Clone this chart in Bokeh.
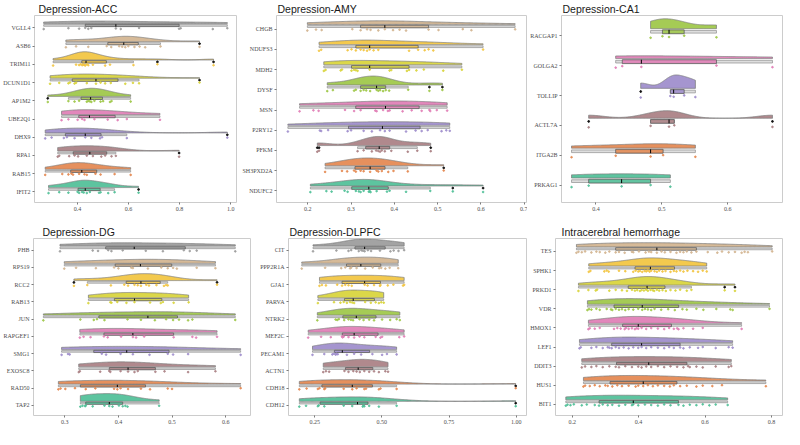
import numpy as np
from bokeh.plotting import figure
from bokeh.models import Range1d, FixedTicker, PrintfTickFormatter
from bokeh.layouts import row, column
from bokeh.embed import file_html
from bokeh.resources import INLINE

# colours, bottom row of each panel first
PALETTE = ["#4fbf97", "#e4874f", "#a97f83", "#9d8ccb", "#e07db5",
           "#9dc746", "#d8d43a", "#f2c43f", "#d2b48f", "#9b9b9b"]

# ---------------- Depression-ACC (top to bottom) ----------------
ACC_GENES = ["VGLL4", "ASB6", "TRIM11", "DCUN1D1", "AP1M2", "UBE2Q1", "DHX9", "RPA1", "RAB15", "IFIT2"]
ACC_VALUES = [
    [0.267, 0.364, 0.406, 0.43, 0.442, 0.454, 0.55, 0.569, 0.641, 0.798, 0.804, 0.93, 0.987],
    [0.354, 0.394, 0.442, 0.514, 0.532, 0.563, 0.575, 0.587, 0.599, 0.623, 0.643, 0.665, 0.725, 0.878],
    [0.304, 0.394, 0.406, 0.412, 0.418, 0.422, 0.426, 0.43, 0.436, 0.442, 0.46, 0.508, 0.527, 0.619, 0.713, 0.933],
    [0.292, 0.328, 0.364, 0.37, 0.388, 0.394, 0.436, 0.472, 0.49, 0.508, 0.53, 0.587, 0.617, 0.641, 0.878],
    [0.283, 0.364, 0.388, 0.406, 0.436, 0.442, 0.448, 0.454, 0.466, 0.49, 0.5, 0.527, 0.533, 0.608],
    [0.337, 0.364, 0.4, 0.418, 0.427, 0.466, 0.518, 0.557, 0.593, 0.723],
    [0.273, 0.298, 0.346, 0.358, 0.388, 0.43, 0.454, 0.488, 0.496, 0.593, 0.987],
    [0.322, 0.328, 0.367, 0.388, 0.402, 0.436, 0.46, 0.493, 0.508, 0.533, 0.55, 0.798],
    [0.273, 0.34, 0.364, 0.376, 0.382, 0.406, 0.427, 0.436, 0.47, 0.49, 0.545, 0.608],
    [0.286, 0.328, 0.364, 0.4, 0.406, 0.418, 0.424, 0.436, 0.448, 0.484, 0.49, 0.52, 0.545, 0.639],
]
ACC_TICKS = [0.4, 0.6, 0.8, 1.0]

# ---------------- Depression-AMY ----------------
AMY_GENES = ["CHGB", "NDUFS3", "MDH2", "DYSF", "MSN", "P2RY12", "PFKM", "SH3PXD2A", "NDUFC2"]
AMY_VALUES = [
    [0.199, 0.219, 0.232, 0.303, 0.322, 0.337, 0.345, 0.363, 0.378, 0.397, 0.412, 0.427, 0.479, 0.502, 0.558, 0.578, 0.679],
    [0.226, 0.231, 0.292, 0.301, 0.311, 0.322, 0.329, 0.337, 0.343, 0.352, 0.363, 0.434, 0.455, 0.47, 0.479, 0.49, 0.605],
    [0.237, 0.241, 0.276, 0.279, 0.301, 0.307, 0.311, 0.315, 0.343, 0.389, 0.393, 0.429, 0.434, 0.451, 0.468, 0.513, 0.556],
    [0.245, 0.258, 0.307, 0.311, 0.322, 0.329, 0.335, 0.344, 0.359, 0.363, 0.367, 0.374, 0.38, 0.388, 0.432, 0.481, 0.511],
    [0.181, 0.213, 0.225, 0.286, 0.307, 0.322, 0.356, 0.359, 0.374, 0.385, 0.389, 0.419, 0.44, 0.463, 0.481, 0.483, 0.498, 0.522],
    [0.154, 0.228, 0.231, 0.247, 0.292, 0.3, 0.329, 0.348, 0.367, 0.378, 0.389, 0.427, 0.449, 0.463, 0.477, 0.509, 0.52, 0.528],
    [0.222, 0.226, 0.315, 0.329, 0.348, 0.358, 0.363, 0.367, 0.371, 0.378, 0.393, 0.431, 0.453, 0.484],
    [0.24, 0.279, 0.291, 0.307, 0.311, 0.322, 0.329, 0.344, 0.359, 0.363, 0.371, 0.386, 0.398, 0.431, 0.514],
    [0.206, 0.243, 0.255, 0.285, 0.292, 0.311, 0.318, 0.322, 0.329, 0.341, 0.343, 0.345, 0.359, 0.383, 0.389, 0.427, 0.483, 0.535, 0.605],
]
AMY_TICKS = [0.2, 0.3, 0.4, 0.5, 0.6, 0.7]

# ---------------- Depression-CA1 ----------------
CA1_GENES = ["RACGAP1", "GOLGA2", "TOLLIP", "ACTL7A", "ITGA2B", "PRKAG1"]
CA1_VALUES = [
    [0.483, 0.501, 0.511, 0.534, 0.583],
    [0.43, 0.44, 0.469, 0.583, 0.668],
    [0.468, 0.513, 0.518, 0.534, 0.551],
    [0.389, 0.483, 0.511, 0.519, 0.668],
    [0.363, 0.43, 0.483, 0.502, 0.551],
    [0.363, 0.389, 0.439, 0.483, 0.513],
]
CA1_TICKS = [0.4, 0.5, 0.6]

# ---------------- Depression-DG ----------------
DG_GENES = ["PHB", "RPS19", "RCC2", "RAB13", "JUN", "RAPGEF1", "SMG1", "EXOSC8", "RAD50", "TAP2"]
DG_VALUES = [
    [0.291, 0.352, 0.362, 0.381, 0.387, 0.408, 0.451, 0.483, 0.522, 0.533, 0.546, 0.618],
    [0.299, 0.321, 0.358, 0.392, 0.4, 0.424, 0.427, 0.455, 0.48, 0.492, 0.502, 0.509, 0.546, 0.581],
    [0.317, 0.342, 0.386, 0.411, 0.418, 0.43, 0.436, 0.442, 0.452, 0.457, 0.471, 0.485, 0.489, 0.492, 0.584],
    [0.344, 0.385, 0.387, 0.398, 0.415, 0.43, 0.459, 0.479, 0.483, 0.503, 0.531],
    [0.26, 0.329, 0.354, 0.36, 0.374, 0.417, 0.442, 0.468, 0.489, 0.502, 0.513, 0.53, 0.538, 0.618],
    [0.328, 0.335, 0.348, 0.373, 0.38, 0.405, 0.427, 0.433, 0.448, 0.503, 0.538, 0.545, 0.584],
    [0.294, 0.306, 0.309, 0.369, 0.377, 0.404, 0.427, 0.458, 0.492, 0.502, 0.53, 0.628],
    [0.326, 0.328, 0.366, 0.383, 0.385, 0.404, 0.418, 0.43, 0.436, 0.469, 0.486, 0.53, 0.581],
    [0.288, 0.292, 0.301, 0.319, 0.339, 0.357, 0.392, 0.398, 0.404, 0.418, 0.442, 0.459, 0.492, 0.5, 0.628],
    [0.329, 0.333, 0.338, 0.339, 0.352, 0.374, 0.383, 0.389, 0.401, 0.408, 0.413, 0.417, 0.476],
]
DG_TICKS = [0.3, 0.4, 0.5, 0.6]

# ---------------- Depression-DLPFC ----------------
DLPFC_GENES = ["CIT", "PPP2R1A", "GJA1", "PARVA", "NTRK2", "MEF2C", "PECAM1", "ACTN1", "CDH18", "CDH12"]
DLPFC_VALUES = [
    [0.244, 0.331, 0.376, 0.386, 0.414, 0.424, 0.43, 0.436, 0.448, 0.46, 0.493, 0.532, 0.544, 0.562, 0.583],
    [0.202, 0.289, 0.349, 0.364, 0.382, 0.386, 0.406, 0.438, 0.466, 0.49, 0.498, 0.513, 0.529, 0.561],
    [0.268, 0.277, 0.292, 0.334, 0.352, 0.364, 0.376, 0.388, 0.436, 0.447, 0.471, 0.493, 0.495, 0.522, 0.543, 0.579, 0.583],
    [0.262, 0.322, 0.346, 0.358, 0.37, 0.382, 0.39, 0.397, 0.438, 0.459, 0.477, 0.489, 0.498, 0.507],
    [0.26, 0.328, 0.334, 0.34, 0.36, 0.376, 0.385, 0.393, 0.417, 0.432, 0.453, 0.471, 0.501, 0.531, 0.555, 0.567],
    [0.226, 0.274, 0.31, 0.352, 0.354, 0.358, 0.376, 0.397, 0.417, 0.435, 0.477, 0.495, 0.501, 0.565, 0.583],
    [0.242, 0.286, 0.316, 0.322, 0.328, 0.331, 0.336, 0.37, 0.397, 0.423, 0.465, 0.501, 0.519, 0.555],
    [0.282, 0.292, 0.304, 0.361, 0.376, 0.394, 0.406, 0.418, 0.435, 0.453, 0.471, 0.489, 0.513, 0.523],
    [0.193, 0.22, 0.262, 0.268, 0.286, 0.289, 0.358, 0.39, 0.406, 0.435, 0.441, 0.489, 0.495, 0.555, 0.998],
    [0.193, 0.218, 0.262, 0.265, 0.286, 0.358, 0.39, 0.429, 0.432, 0.435, 0.453, 0.489, 0.555, 0.998],
]
DLPFC_TICKS = [0.25, 0.5, 0.75, 1.0]

# ---------------- Intracerebral hemorrhage ----------------
ICH_GENES = ["TES", "SPHK1", "PRKD1", "VDR", "HMOX1", "LEF1", "DDIT3", "HUS1", "BIT1"]
ICH_VALUES = [
    [0.213, 0.219, 0.229, 0.239, 0.258, 0.273, 0.283, 0.3, 0.312, 0.331, 0.341, 0.358, 0.38, 0.384, 0.401, 0.421,
     0.431, 0.438, 0.455, 0.469, 0.479, 0.496, 0.514, 0.525, 0.535, 0.545, 0.559, 0.574, 0.608, 0.637, 0.651,
     0.671, 0.69, 0.71, 0.719, 0.729, 0.802],
    [0.25, 0.255, 0.297, 0.304, 0.31, 0.341, 0.36, 0.384, 0.391, 0.399, 0.404, 0.411, 0.418, 0.423, 0.428, 0.433,
     0.438, 0.448, 0.455, 0.462, 0.472, 0.481, 0.496, 0.506, 0.514, 0.525, 0.535, 0.547, 0.564, 0.579, 0.593, 0.605],
    [0.219, 0.249, 0.271, 0.275, 0.312, 0.331, 0.35, 0.365, 0.38, 0.389, 0.396, 0.404, 0.409, 0.416, 0.423, 0.428,
     0.436, 0.443, 0.447, 0.455, 0.462, 0.472, 0.482, 0.496, 0.511, 0.525, 0.545, 0.559, 0.659, 0.69],
    [0.246, 0.251, 0.258, 0.273, 0.283, 0.304, 0.317, 0.321, 0.331, 0.341, 0.35, 0.36, 0.37, 0.384, 0.399, 0.411,
     0.419, 0.428, 0.438, 0.448, 0.468, 0.489, 0.509, 0.532, 0.545, 0.574, 0.595, 0.634, 0.676, 0.683, 0.794],
    [0.249, 0.253, 0.268, 0.283, 0.326, 0.336, 0.346, 0.358, 0.362, 0.37, 0.38, 0.389, 0.394, 0.399, 0.409, 0.423,
     0.438, 0.458, 0.477, 0.492, 0.506, 0.516, 0.52, 0.535, 0.564, 0.593, 0.71],
    [0.222, 0.226, 0.258, 0.273, 0.292, 0.307, 0.312, 0.319, 0.331, 0.341, 0.355, 0.37, 0.384, 0.399, 0.409, 0.423,
     0.438, 0.458, 0.477, 0.492, 0.506, 0.525, 0.535, 0.554, 0.579, 0.593, 0.632, 0.671, 0.683],
    [0.229, 0.239, 0.258, 0.273, 0.292, 0.312, 0.331, 0.341, 0.36, 0.38, 0.399, 0.409, 0.423, 0.438, 0.458, 0.477,
     0.496, 0.516, 0.535, 0.549, 0.554, 0.574, 0.593, 0.632, 0.671, 0.679],
    [0.234, 0.239, 0.253, 0.268, 0.283, 0.3, 0.307, 0.321, 0.336, 0.35, 0.37, 0.391, 0.399, 0.414, 0.428, 0.443,
     0.458, 0.477, 0.494, 0.506, 0.525, 0.545, 0.574, 0.593, 0.622, 0.651, 0.783],
    [0.181, 0.186, 0.195, 0.205, 0.229, 0.244, 0.268, 0.281, 0.292, 0.307, 0.321, 0.341, 0.36, 0.38, 0.384, 0.399,
     0.419, 0.438, 0.458, 0.477, 0.496, 0.52, 0.535, 0.554, 0.574, 0.593, 0.613, 0.632, 0.668],
]
ICH_TICKS = [0.2, 0.4, 0.6, 0.8]

# -------------------------------------------------------------------
BASE = 0.24        # violin baseline above the label row
BOX_TOP, BOX_BOT = 0.20, 0.07
WH_TOP, WH_BOT = 0.18, 0.09
PT_Y = -0.03
PEAK = 0.45
ADJUST = 1.35
JIT = [-0.035, 0.015, -0.01, 0.035, -0.02, 0.025, 0.0, -0.03, 0.03, -0.015, 0.01]


def bw_nrd0(x):
    x = np.asarray(x, float)
    hi = np.std(x, ddof=1)
    q75, q25 = np.percentile(x, [75, 25])
    lo = min(hi, (q75 - q25) / 1.34)
    if lo <= 0:
        lo = hi if hi > 0 else 1.0
    return 0.9 * lo * len(x) ** -0.2


def kde(x):
    x = np.asarray(x, float)
    bw = bw_nrd0(x) * ADJUST
    g = np.linspace(x.min(), x.max(), 240)
    d = np.exp(-0.5 * ((g[:, None] - x[None, :]) / bw) ** 2).sum(1) / (len(x) * bw * np.sqrt(2 * np.pi))
    return g, d


def panel(title, genes, values, ticks, fmt, width, height, mb, title_offset):
    n = len(genes)
    allv = np.concatenate([np.asarray(v, float) for v in values])
    pad = 0.05 * (allv.max() - allv.min())
    p = figure(width=width, height=height, output_backend="svg", toolbar_location=None,
               x_range=Range1d(allv.min() - pad, allv.max() + pad),
               y_range=Range1d(0.42, n + 0.68),
               min_border_left=mb[0], min_border_right=mb[1],
               min_border_top=mb[2], min_border_bottom=mb[3])
    p.title.text = title
    p.title.text_font = "Liberation Sans"
    p.title.text_font_size = "10.5px"
    p.title.text_font_style = "normal"
    p.title.text_color = "#1a1a1a"
    p.title.offset = title_offset
    p.title.standoff = 1

    dens = [kde(v) for v in values]
    k = PEAK / max(d.max() for _, d in dens)

    for j, (g, vals) in enumerate(zip(genes, values)):
        y = n - j
        col = PALETTE[y - 1]
        vals = np.asarray(vals, float)
        gx, d = dens[j]
        xs = np.concatenate([gx, gx[::-1]])
        ys = np.concatenate([y + BASE + d * k, np.full(len(gx), y + BASE)])
        p.patch(xs, ys, fill_color=col, fill_alpha=0.92, line_color="#808080", line_width=0.8)

        q1, med, q3 = np.percentile(vals, [25, 50, 75])
        iqr = q3 - q1
        inside = vals[(vals >= q1 - 1.5 * iqr) & (vals <= q3 + 1.5 * iqr)]
        wlo, whi = inside.min(), inside.max()
        outl = vals[(vals < q1 - 1.5 * iqr) | (vals > q3 + 1.5 * iqr)]

        p.quad(left=[wlo], right=[whi], bottom=[y + WH_BOT], top=[y + WH_TOP],
               fill_color="#dedede", line_color="#8c8c8c", line_width=0.7)
        p.quad(left=[q1], right=[q3], bottom=[y + BOX_BOT], top=[y + BOX_TOP],
               fill_color=col, fill_alpha=0.85, line_color="#5f5f5f", line_width=0.8)
        p.segment(x0=[med], x1=[med], y0=[y + BOX_BOT], y1=[y + BOX_TOP],
                  line_color="black", line_width=1.0)
        if len(outl):
            p.scatter(outl, np.full(len(outl), y + (BOX_TOP + BOX_BOT) / 2),
                      size=1.8, color="#111111")
        py = [y + PT_Y + JIT[i % len(JIT)] for i in range(len(vals))]
        p.scatter(vals, py, size=1.7, fill_color=col, line_color=col, alpha=0.85)

    p.xaxis.ticker = FixedTicker(ticks=ticks)
    p.xaxis.formatter = PrintfTickFormatter(format=fmt)
    p.yaxis.ticker = FixedTicker(ticks=list(range(1, n + 1)))
    p.yaxis.major_label_overrides = {n - j: g for j, g in enumerate(genes)}
    for ax in (p.xaxis[0], p.yaxis[0]):
        ax.axis_line_color = None
        ax.major_tick_line_color = "#444444"
        ax.major_tick_line_width = 0.7
        ax.major_tick_in = 0
        ax.major_tick_out = 2
        ax.minor_tick_line_color = None
        ax.major_label_text_font = "Liberation Serif"
        ax.major_label_text_font_size = "6px"
        ax.major_label_text_color = "#4d4d4d"
        ax.major_label_standoff = 2
    p.xgrid.visible = False
    p.ygrid.visible = False
    p.outline_line_color = "#cccccc"
    p.outline_line_width = 1
    return p


f1 = panel("Depression-ACC", ACC_GENES, ACC_VALUES, ACC_TICKS, "%.1f", 237, 217, (22, 1, 10, 15), 4)
f2 = panel("Depression-AMY", AMY_GENES, AMY_VALUES, AMY_TICKS, "%.1f", 290, 217, (39, 1, 14, 15), 1)
f3 = panel("Depression-CA1", CA1_GENES, CA1_VALUES, CA1_TICKS, "%.1f", 257, 217, (30, 2, 14, 15), 1)
f4 = panel("Depression-DG", DG_GENES, DG_VALUES, DG_TICKS, "%.1f", 257, 212, (22, 7, 21, 14), 9)
f5 = panel("Depression-DLPFC", DLPFC_GENES, DLPFC_VALUES, DLPFC_TICKS, "%.2f", 270, 212, (29, 1, 21, 14), 1)
f6 = panel("Intracerebral hemorrhage", ICH_GENES, ICH_VALUES, ICH_TICKS, "%.1f", 257, 212, (27, 2, 21, 14), 6)

layout = column(row(f1, f2, f3), row(f4, f5, f6))
open("out.html", "w").write(file_html(layout, INLINE))
